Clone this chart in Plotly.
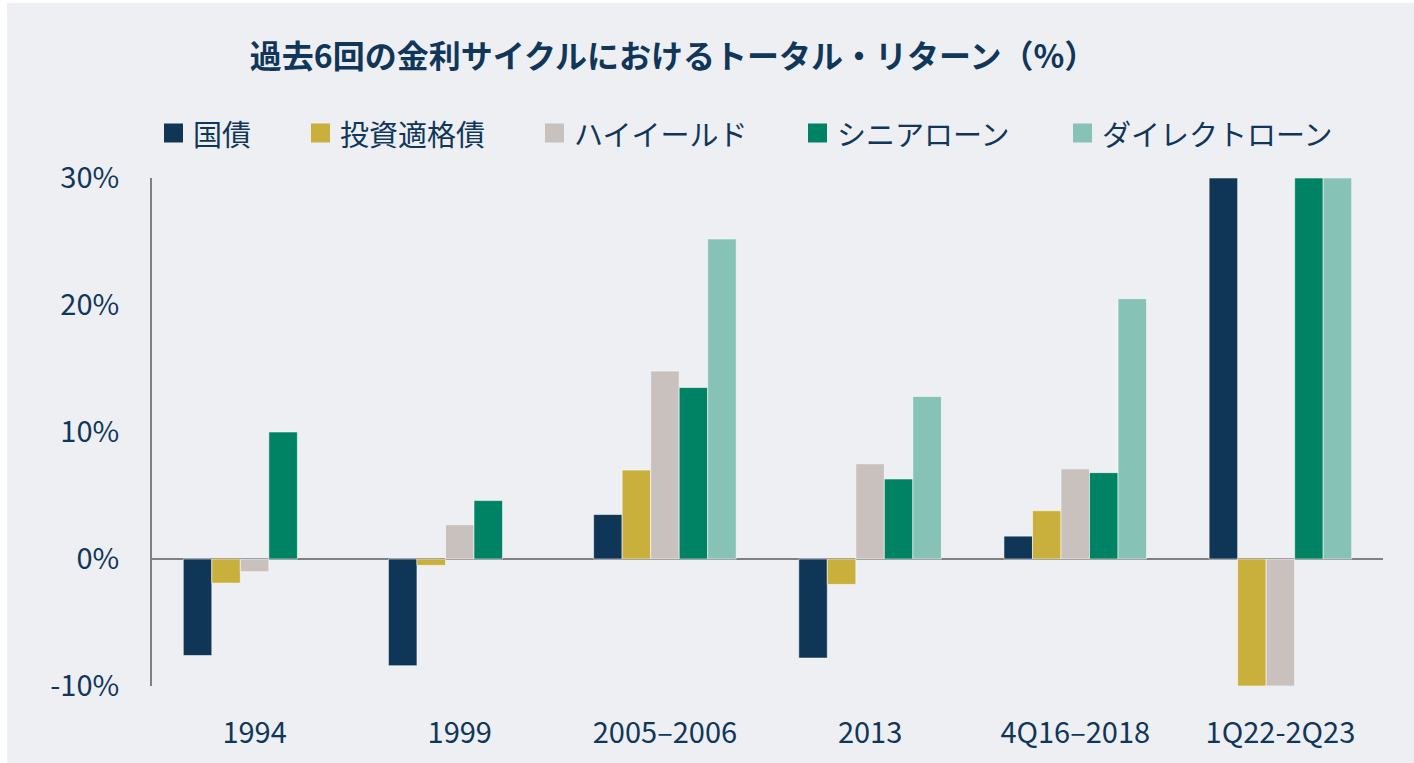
import plotly.graph_objects as go

categories = ["1994", "1999", "2005–2006", "2013", "4Q16–2018", "1Q22-2Q23"]
series_names = ["国債", "投資適格債", "ハイイールド", "シニアローン", "ダイレクトローン"]
govt = [-7.6, -8.4, 3.5, -7.8, 1.8, 30]
ig = [-1.9, -0.5, 7.0, -2.0, 3.8, -10]
hy = [-1.0, 2.7, 14.8, 7.5, 7.1, -10]
senior = [10.0, 4.6, 13.5, 6.3, 6.8, 30]
direct = [None, None, 25.2, 12.8, 20.5, 30]
y_ticks = [-10, 0, 10, 20, 30]
y_tick_labels = ["-10%", "0%", "10%", "20%", "30%"]
title_text = "過去6回の金利サイクルにおけるトータル・リターン（%）"

colors = ["#0F3657", "#C9AF3C", "#C9C1BE", "#008264", "#86C2B6"]
values = [govt, ig, hy, senior, direct]
TEXT = "#10375A"
BG = "#EEEFF3"
FONT = "Noto Sans CJK JP"

W, H = 1414, 763
L, R, T, B = 152, 31, 178, 77
pw, ph = W - L - R, H - T - B

def px_x(px):
    return (px - L) / pw

def px_y(py):
    return (H - B - py) / ph

fig = go.Figure()
for name, vals, col in zip(series_names, values, colors):
    fig.add_trace(go.Bar(
        name=name, x=categories, y=vals,
        marker=dict(color=col, line=dict(color="rgba(255,255,255,0.55)", width=1)),
        showlegend=False,
    ))

shapes = [dict(type="rect", xref="paper", yref="paper", layer="below",
               x0=px_x(7), x1=px_x(W + 2), y0=px_y(H + 2), y1=px_y(3),
               fillcolor=BG, line=dict(width=0))]
annotations = []
sq_x = [164, 311, 545, 808, 1073]
leg_y = 133
for name, col, sx in zip(series_names, colors, sq_x):
    shapes.append(dict(type="rect", xref="paper", yref="paper",
                       x0=px_x(sx), x1=px_x(sx + 19), y0=px_y(leg_y + 9.5), y1=px_y(leg_y - 9.5),
                       fillcolor=col, line=dict(width=0)))
    annotations.append(dict(xref="paper", yref="paper", x=px_x(sx + 27), y=px_y(leg_y),
                            xanchor="left", yanchor="middle", showarrow=False,
                            text=name, font=dict(family=FONT, size=29, color=TEXT)))

fig.update_layout(
    width=W, height=H,
    margin=dict(l=L, r=R, t=T, b=B, pad=0),
    paper_bgcolor="white", plot_bgcolor="rgba(0,0,0,0)",
    barmode="group", bargap=0.305, bargroupgap=0,
    title=dict(text="<b>" + title_text + "</b>", x=673 / W, xanchor="center",
               y=1 - 57 / H, yanchor="middle", yref="container", xref="container",
               font=dict(family=FONT, size=32, color=TEXT)),
    shapes=shapes, annotations=annotations,
    font=dict(family=FONT, color=TEXT),
)
fig.update_xaxes(showline=False, showgrid=False, ticks="", range=[-0.5, 5.5],
                 tickfont=dict(family=FONT, size=29, color=TEXT), ticklabelstandoff=27)
fig.update_yaxes(range=[-10, 30], tickvals=y_ticks, ticktext=y_tick_labels,
                 showgrid=False, showline=True, linecolor="#808080", linewidth=2,
                 zeroline=True, zerolinecolor="#808080", zerolinewidth=2,
                 ticks="", tickfont=dict(family=FONT, size=29, color=TEXT),
                 ticklabelstandoff=25)

fig.write_html("out.html", config={"displayModeBar": False},
               post_script="document.body.style.margin='0px';document.body.style.overflow='hidden';")
